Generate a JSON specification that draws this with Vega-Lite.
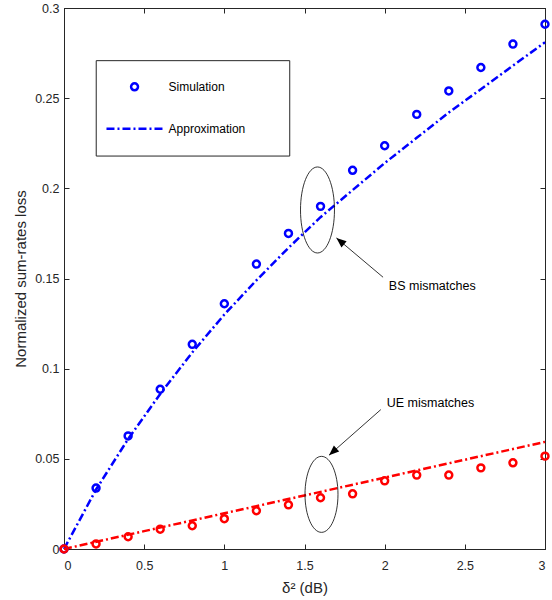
{
  "$schema": "https://vega.github.io/schema/vega-lite/v6.json",
  "width": 481,
  "height": 541,
  "autosize": "none",
  "padding": {"left": 64, "top": 8, "right": 7, "bottom": 51},
  "background": "white",
  "config": {
    "view": {"stroke": "#262626", "strokeWidth": 1},
    "font": "Liberation Sans",
    "axis": {
      "grid": false,
      "domainColor": "#262626",
      "tickColor": "#262626",
      "labelColor": "#262626",
      "titleColor": "#262626",
      "labelFont": "Liberation Sans",
      "titleFont": "Liberation Sans",
      "labelFontSize": 12.5,
      "titleFontSize": 15,
      "titleFontWeight": "normal",
      "tickSize": -5
    }
  },
  "datasets": {
    "sim": [
      {"x": 0, "y": 0, "series": "BS"},
      {"x": 0.2, "y": 0.0338, "series": "BS"},
      {"x": 0.4, "y": 0.0627, "series": "BS"},
      {"x": 0.6, "y": 0.0886, "series": "BS"},
      {"x": 0.8, "y": 0.1135, "series": "BS"},
      {"x": 1.0, "y": 0.136, "series": "BS"},
      {"x": 1.2, "y": 0.158, "series": "BS"},
      {"x": 1.4, "y": 0.175, "series": "BS"},
      {"x": 1.6, "y": 0.190, "series": "BS"},
      {"x": 1.8, "y": 0.210, "series": "BS"},
      {"x": 2.0, "y": 0.2236, "series": "BS"},
      {"x": 2.2, "y": 0.241, "series": "BS"},
      {"x": 2.4, "y": 0.254, "series": "BS"},
      {"x": 2.6, "y": 0.267, "series": "BS"},
      {"x": 2.8, "y": 0.280, "series": "BS"},
      {"x": 3.0, "y": 0.291, "series": "BS"},
      {"x": 0, "y": 0, "series": "UE"},
      {"x": 0.2, "y": 0.0028, "series": "UE"},
      {"x": 0.4, "y": 0.0068, "series": "UE"},
      {"x": 0.6, "y": 0.011, "series": "UE"},
      {"x": 0.8, "y": 0.0129, "series": "UE"},
      {"x": 1.0, "y": 0.0168, "series": "UE"},
      {"x": 1.2, "y": 0.0212, "series": "UE"},
      {"x": 1.4, "y": 0.0245, "series": "UE"},
      {"x": 1.6, "y": 0.0284, "series": "UE"},
      {"x": 1.8, "y": 0.0306, "series": "UE"},
      {"x": 2.0, "y": 0.0378, "series": "UE"},
      {"x": 2.2, "y": 0.041, "series": "UE"},
      {"x": 2.4, "y": 0.041, "series": "UE"},
      {"x": 2.6, "y": 0.045, "series": "UE"},
      {"x": 2.8, "y": 0.0478, "series": "UE"},
      {"x": 3.0, "y": 0.0515, "series": "UE"}
    ],
    "approx": [
      {"x": 0, "y": 0, "series": "BS"},
      {"x": 0.2, "y": 0.033, "series": "BS"},
      {"x": 0.4, "y": 0.061, "series": "BS"},
      {"x": 0.6, "y": 0.086, "series": "BS"},
      {"x": 0.8, "y": 0.109, "series": "BS"},
      {"x": 1.0, "y": 0.130, "series": "BS"},
      {"x": 1.2, "y": 0.149, "series": "BS"},
      {"x": 1.4, "y": 0.167, "series": "BS"},
      {"x": 1.6, "y": 0.184, "series": "BS"},
      {"x": 1.8, "y": 0.199, "series": "BS"},
      {"x": 2.0, "y": 0.214, "series": "BS"},
      {"x": 2.2, "y": 0.228, "series": "BS"},
      {"x": 2.4, "y": 0.242, "series": "BS"},
      {"x": 2.6, "y": 0.255, "series": "BS"},
      {"x": 2.8, "y": 0.268, "series": "BS"},
      {"x": 3.0, "y": 0.281, "series": "BS"},
      {"x": 0, "y": 0, "series": "UE"},
      {"x": 0.5, "y": 0.0099, "series": "UE"},
      {"x": 1.0, "y": 0.0198, "series": "UE"},
      {"x": 1.5, "y": 0.0297, "series": "UE"},
      {"x": 2.0, "y": 0.0396, "series": "UE"},
      {"x": 2.5, "y": 0.0495, "series": "UE"},
      {"x": 3.0, "y": 0.0594, "series": "UE"}
    ],
    "ellipses": [
      {"x": 1.581, "y": 0.188, "label": "BS"},
      {"x": 1.606, "y": 0.0303, "label": "UE"}
    ],
    "arrows": [
      {"x": 1.990, "y": 0.1507, "x2": 1.699, "y2": 0.1725, "angle": 310},
      {"x": 1.976, "y": 0.0773, "x2": 1.653, "y2": 0.052, "angle": 228.5}
    ],
    "notes": [
      {"x": 2.026, "y": 0.1456, "text": "BS mismatches"},
      {"x": 2.013, "y": 0.081, "text": "UE mismatches"}
    ],
    "legendbox": [
      {"x": 0.201, "x2": 1.408, "y": 0.2708, "y2": 0.2179}
    ],
    "legendtext": [
      {"x": 0.652, "y": 0.2563, "text": "Simulation"},
      {"x": 0.652, "y": 0.233, "text": "Approximation"}
    ],
    "legendpoint": [
      {"x": 0.44, "y": 0.2563}
    ],
    "legendline": [
      {"x": 0.265, "y": 0.233},
      {"x": 0.615, "y": 0.233}
    ],
    "frame": [
      {"x": 0, "y": 0},
      {"x": 3, "y": 0.3}
    ]
  },
  "resolve": {"axis": {"x": "independent", "y": "independent"}},
  "layer": [
    {
      "layer": [
        {
          "data": {"name": "approx"},
          "mark": {"type": "line", "strokeWidth": 2.5, "strokeDash": [8, 3, 2, 3]},
          "encoding": {
            "x": {
              "field": "x", "type": "quantitative",
              "scale": {"domain": [0, 3], "nice": false, "zero": false},
              "axis": {"values": [0, 0.5, 1, 1.5, 2, 2.5, 3], "labelExpr": "'' + datum.value", "title": "δ² (dB)", "titlePadding": 9, "labelPadding": 15}
            },
            "y": {
              "field": "y", "type": "quantitative",
              "scale": {"domain": [0, 0.3], "nice": false},
              "axis": {"values": [0, 0.05, 0.1, 0.15, 0.2, 0.25, 0.3], "labelExpr": "'' + datum.value", "title": "Normalized sum-rates loss", "titlePadding": 6, "labelPadding": 10}
            },
            "color": {"field": "series", "type": "nominal", "scale": {"domain": ["BS", "UE"], "range": ["#0000ff", "#ff0000"]}, "legend": null},
            "detail": {"field": "series"}
          }
        },
        {
          "data": {"name": "sim"},
          "mark": {"type": "point", "shape": "circle", "filled": false, "size": 48, "strokeWidth": 2.5, "opacity": 1},
          "encoding": {
            "x": {"field": "x", "type": "quantitative"},
            "y": {"field": "y", "type": "quantitative"},
            "color": {"field": "series", "type": "nominal", "legend": null}
          }
        },
        {
          "data": {"name": "ellipses"},
          "transform": [{"filter": "datum.label == 'BS'"}],
          "mark": {"type": "point", "shape": "M0,-1 A0.395,1 0 1,1 0,1 A0.395,1 0 1,1 0,-1 Z", "size": 7396, "filled": false, "stroke": "black", "strokeWidth": 0.8, "opacity": 1},
          "encoding": {
            "x": {"field": "x", "type": "quantitative"},
            "y": {"field": "y", "type": "quantitative"}
          }
        },
        {
          "data": {"name": "ellipses"},
          "transform": [{"filter": "datum.label == 'UE'"}],
          "mark": {"type": "point", "shape": "M0,-1 A0.434,1 0 1,1 0,1 A0.434,1 0 1,1 0,-1 Z", "size": 5776, "filled": false, "stroke": "black", "strokeWidth": 0.8, "opacity": 1},
          "encoding": {
            "x": {"field": "x", "type": "quantitative"},
            "y": {"field": "y", "type": "quantitative"}
          }
        },
        {
          "data": {"name": "arrows"},
          "mark": {"type": "rule", "color": "black", "strokeWidth": 0.8},
          "encoding": {
            "x": {"field": "x", "type": "quantitative"},
            "y": {"field": "y", "type": "quantitative"},
            "x2": {"field": "x2"},
            "y2": {"field": "y2"}
          }
        },
        {
          "data": {"name": "arrows"},
          "mark": {"type": "point", "shape": "M0,0 L-0.4,1 L0.4,1 Z", "size": 400, "filled": true, "color": "black", "opacity": 1},
          "encoding": {
            "x": {"field": "x2", "type": "quantitative"},
            "y": {"field": "y2", "type": "quantitative"},
            "angle": {"field": "angle", "type": "quantitative", "scale": null}
          }
        },
        {
          "data": {"name": "notes"},
          "mark": {"type": "text", "align": "left", "baseline": "middle", "fontSize": 12.5, "font": "Liberation Sans", "color": "black"},
          "encoding": {
            "x": {"field": "x", "type": "quantitative"},
            "y": {"field": "y", "type": "quantitative"},
            "text": {"field": "text"}
          }
        },
        {
          "data": {"name": "legendbox"},
          "mark": {"type": "rect", "fill": "white", "stroke": "#262626", "strokeWidth": 1},
          "encoding": {
            "x": {"field": "x", "type": "quantitative"},
            "x2": {"field": "x2"},
            "y": {"field": "y", "type": "quantitative"},
            "y2": {"field": "y2"}
          }
        },
        {
          "data": {"name": "legendline"},
          "mark": {"type": "line", "color": "#0000ff", "strokeWidth": 2.5, "strokeDash": [8, 3, 2, 3]},
          "encoding": {
            "x": {"field": "x", "type": "quantitative"},
            "y": {"field": "y", "type": "quantitative"}
          }
        },
        {
          "data": {"name": "legendpoint"},
          "mark": {"type": "point", "shape": "circle", "filled": false, "size": 48, "strokeWidth": 2.5, "color": "#0000ff", "opacity": 1},
          "encoding": {
            "x": {"field": "x", "type": "quantitative"},
            "y": {"field": "y", "type": "quantitative"}
          }
        },
        {
          "data": {"name": "legendtext"},
          "mark": {"type": "text", "align": "left", "baseline": "middle", "fontSize": 12, "font": "Liberation Sans", "color": "black"},
          "encoding": {
            "x": {"field": "x", "type": "quantitative"},
            "y": {"field": "y", "type": "quantitative"},
            "text": {"field": "text"}
          }
        }
      ]
    },
    {
      "data": {"name": "frame"},
      "mark": {"type": "point", "opacity": 0},
      "encoding": {
        "x": {"field": "x", "type": "quantitative", "axis": {"orient": "top", "values": [0, 0.5, 1, 1.5, 2, 2.5, 3], "labels": false, "title": null}},
        "y": {"field": "y", "type": "quantitative", "axis": {"orient": "right", "values": [0, 0.05, 0.1, 0.15, 0.2, 0.25, 0.3], "labels": false, "title": null}}
      }
    }
  ]
}
